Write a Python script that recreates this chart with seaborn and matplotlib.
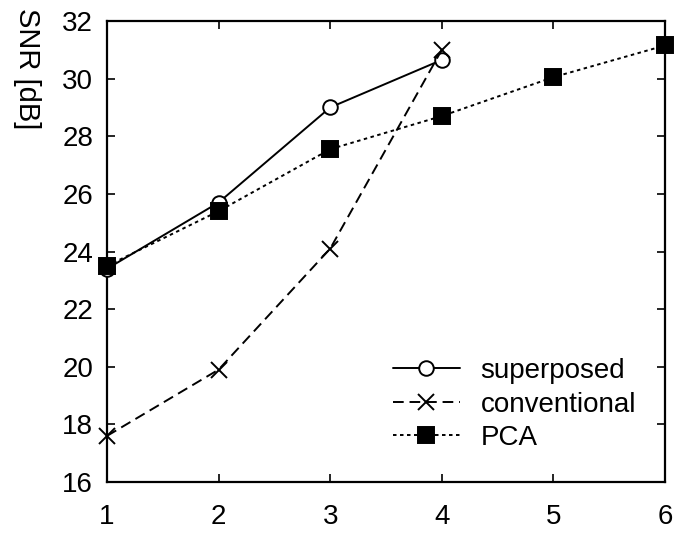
import matplotlib
matplotlib.use("Agg")
import matplotlib.pyplot as plt
import seaborn as sns
import pandas as pd

# SNR versus number of components for three methods
x_superposed = [1, 2, 3, 4]
snr_superposed = [23.4, 25.7, 29.0, 30.65]
x_conventional = [1, 2, 3, 4]
snr_conventional = [17.6, 19.9, 24.1, 31.0]
x_pca = [1, 2, 3, 4, 5, 6]
snr_pca = [23.5, 25.4, 27.55, 28.7, 30.05, 31.15]

x_ticks = [1, 2, 3, 4, 5, 6]
y_ticks = [16, 18, 20, 22, 24, 26, 28, 30, 32]

sns.set_theme(style="ticks")
plt.rcParams["font.family"] = ["Liberation Sans", "DejaVu Sans"]
plt.rcParams["text.color"] = "black"

df = pd.concat([
    pd.DataFrame({"x": x_superposed, "snr": snr_superposed, "method": "superposed"}),
    pd.DataFrame({"x": x_conventional, "snr": snr_conventional, "method": "conventional"}),
    pd.DataFrame({"x": x_pca, "snr": snr_pca, "method": "PCA"}),
])

fig = plt.figure(figsize=(6.88, 5.39), dpi=100)
ax = fig.add_axes([107 / 688, 1 - 482 / 539, (665 - 107) / 688, (482 - 21) / 539])

styles = {
    "superposed": dict(ls="-", marker="o", mfc="white", ms=10.5),
    "conventional": dict(ls=(0, (5.5, 3)), marker="x", mfc="black", ms=11),
    "PCA": dict(ls=(0, (1.8, 1.8)), marker="s", mfc="black", ms=12),
}

for method in ["superposed", "conventional", "PCA"]:
    sub = df[df["method"] == method]
    st = styles[method]
    sns.lineplot(data=sub, x="x", y="snr", ax=ax, color="black", lw=1.4,
                 linestyle=st["ls"], marker=st["marker"], markersize=st["ms"],
                 markerfacecolor=st["mfc"], markeredgecolor="black",
                 markeredgewidth=1.4, label=method, clip_on=False, zorder=3)

ax.set_xlim(1, 6)
ax.set_ylim(16, 32)
ax.set_xticks(x_ticks)
ax.set_yticks(y_ticks)
ax.set_xlabel("")
ax.set_ylabel("")
ax.tick_params(direction="in", length=6, width=1.2, top=True, right=True,
               labelsize=20, colors="black")
ax.tick_params(axis="x", pad=16)
ax.tick_params(axis="y", pad=10)
for spine in ax.spines.values():
    spine.set_visible(True)
    spine.set_linewidth(1.6)
    spine.set_color("black")

fig.text(27 / 688, 1 - 8 / 539, "SNR [dB]", rotation=270, va="top", ha="center",
         fontsize=21)

leg = ax.legend(loc="upper left", bbox_to_anchor=(393 / 688, 1 - 358 / 539),
                bbox_transform=fig.transFigure, frameon=False,
                fontsize=20, handlelength=2.4, handletextpad=0.75,
                labelspacing=0.27, markerscale=1.0, borderpad=0, borderaxespad=0)

fig.savefig("out.png", dpi=100)
